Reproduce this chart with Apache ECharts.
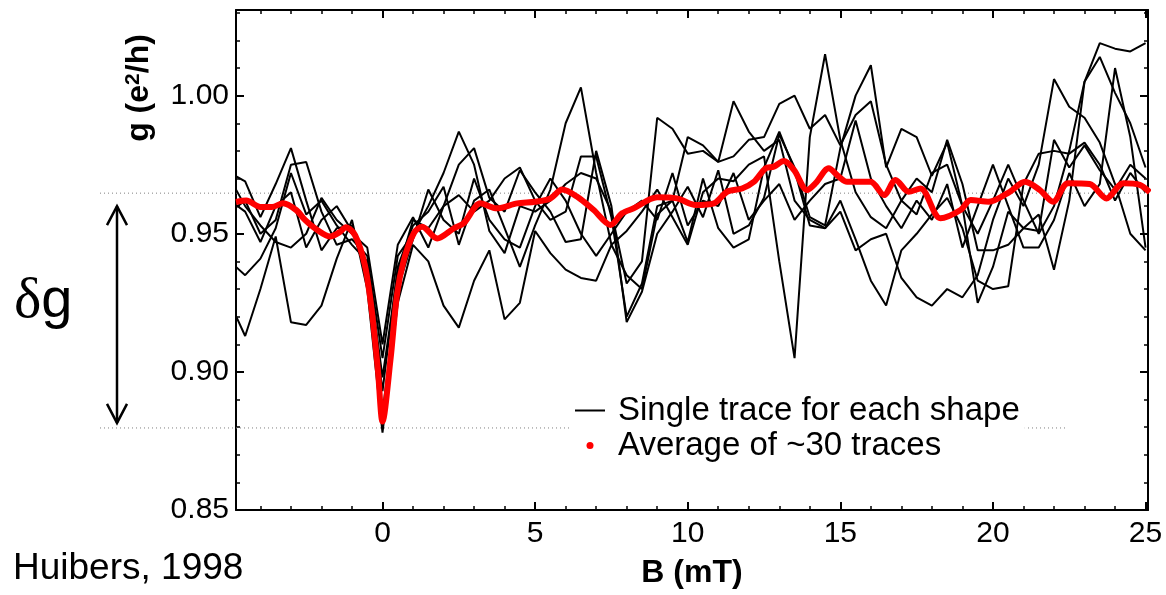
<!DOCTYPE html>
<html>
<head>
<meta charset="utf-8">
<title>g vs B</title>
<script src="https://cdn.jsdelivr.net/npm/echarts@6/dist/echarts.min.js"></script>
<style>
  html, body { margin: 0; padding: 0; background: #fff; }
  #chart { width: 1166px; height: 595px; }
</style>
</head>
<body>
<div id="chart"></div>
<script>
// magnetic field B (mT) shared by the single traces
const fieldB = [-5, -4.5, -4, -3.5, -3, -2.5, -2, -1.5, -1, -0.5, 0, 0.5, 1, 1.5, 2, 2.5, 3, 3.5, 4, 4.5,
  5, 5.5, 6, 6.5, 7, 7.5, 8, 8.5, 9, 9.5, 10, 10.5, 11, 11.5, 12, 12.5, 13, 13.5, 14, 14.5,
  15, 15.5, 16, 16.5, 17, 17.5, 18, 18.5, 19, 19.5, 20, 20.5, 21, 21.5, 22, 22.5, 23, 23.5, 24, 24.5, 25]

// single traces g (e^2/h), one per dot shape
const trace1 = [0.972, 0.969, 0.956, 0.968, 0.981, 0.962, 0.944, 0.952, 0.953, 0.938, 0.893, 0.938, 0.953, 0.958, 0.967, 0.946, 0.962, 0.966, 0.952, 0.938,
  0.953, 0.966, 0.990, 1.003, 0.972, 0.946, 0.951, 0.958, 0.966, 0.956, 0.946, 0.965, 0.970, 0.969, 0.975, 0.978, 0.940, 0.905, 0.985, 1.015,
  0.984, 0.965, 0.956, 0.952, 0.962, 0.957, 0.972, 0.975, 0.960, 0.950, 0.962, 0.975, 0.962, 0.950, 0.960, 0.980, 1.005, 1.014, 1.001, 0.990, 0.974]
const trace2 = [0.925, 0.913, 0.930, 0.949, 0.918, 0.917, 0.924, 0.941, 0.955, 0.930, 0.878, 0.925, 0.946, 0.940, 0.924, 0.916, 0.933, 0.944, 0.919, 0.925,
  0.951, 0.943, 0.937, 0.934, 0.933, 0.946, 0.935, 0.930, 0.957, 0.962, 0.947, 0.970, 0.952, 0.945, 0.948, 0.974, 0.987, 0.973, 0.953, 0.952,
  0.962, 0.948, 0.933, 0.924, 0.944, 0.950, 0.957, 0.963, 0.952, 0.933, 0.930, 0.931, 0.968, 0.979, 0.980, 0.979, 0.983, 0.975, 0.962, 0.972, 0.965]
const trace3 = [0.958, 0.962, 0.950, 0.955, 0.975, 0.976, 0.958, 0.946, 0.948, 0.942, 0.905, 0.942, 0.950, 0.960, 0.972, 0.987, 0.975, 0.951, 0.943, 0.960,
  0.958, 0.962, 0.968, 0.972, 0.970, 0.958, 0.932, 0.940, 0.992, 0.988, 0.979, 0.980, 0.976, 0.978, 0.984, 0.985, 0.997, 1.000, 0.988, 0.993,
  0.982, 0.993, 0.998, 0.975, 0.962, 0.970, 0.965, 0.984, 0.968, 0.944, 0.944, 0.946, 0.952, 0.951, 0.984, 0.974, 0.982, 0.973, 0.966, 0.975, 0.970]
const trace4 = [0.940, 0.935, 0.941, 0.952, 0.972, 0.957, 0.962, 0.953, 0.946, 0.940, 0.898, 0.936, 0.955, 0.952, 0.960, 0.975, 0.981, 0.963, 0.958, 0.973,
  0.965, 0.958, 0.947, 0.948, 0.980, 0.960, 0.918, 0.929, 0.950, 0.958, 0.967, 0.956, 0.973, 0.950, 0.953, 0.963, 0.986, 0.974, 0.956, 0.953,
  0.981, 1.000, 1.011, 0.974, 0.988, 0.985, 0.971, 0.983, 0.960, 0.925, 0.938, 0.958, 0.952, 0.957, 0.937, 0.962, 1.005, 1.019, 1.017, 1.016, 1.019]
const trace5 = [0.970, 0.960, 0.953, 0.947, 0.945, 0.950, 0.963, 0.955, 0.950, 0.945, 0.910, 0.946, 0.956, 0.945, 0.960, 0.964, 0.958, 0.962, 0.970, 0.974,
  0.962, 0.955, 0.958, 0.978, 0.978, 0.956, 0.920, 0.932, 0.960, 0.962, 0.985, 0.982, 0.976, 0.998, 0.987, 0.980, 0.984, 0.962, 0.955, 0.952,
  0.958, 0.944, 0.948, 0.950, 0.934, 0.927, 0.924, 0.930, 0.927, 0.935, 0.955, 0.970, 0.960, 0.975, 1.006, 0.996, 0.992, 0.983, 0.968, 0.950, 0.944]
const trace6 = [0.962, 0.958, 0.947, 0.960, 0.965, 0.945, 0.955, 0.960, 0.951, 0.935, 0.885, 0.930, 0.948, 0.966, 0.955, 0.950, 0.970, 0.955, 0.948, 0.945,
  0.960, 0.970, 0.962, 0.950, 0.942, 0.950, 0.958, 0.962, 0.955, 0.972, 0.953, 0.962, 0.960, 0.972, 0.955, 0.962, 0.968, 0.955, 0.962, 0.968,
  0.970, 0.991, 0.970, 0.960, 0.952, 0.962, 0.955, 0.968, 0.945, 0.960, 0.975, 0.960, 0.945, 0.945, 0.955, 0.972, 0.960, 0.968, 1.010, 0.985, 0.945]
const traces = [trace1, trace2, trace3, trace4, trace5, trace6]

// average of ~30 traces
const avgB = [-4.8, -4.46, -4.0, -3.62, -3.26, -2.83, -2.54, -2.18, -1.71, -1.4, -1.2, -0.9, -0.58, -0.35, -0.15, 0.0, 0.26, 0.48, 0.7, 1.03,
  1.3, 1.79, 2.34, 2.66, 3.21, 3.75, 4.41, 5.0, 5.5, 5.89, 6.38, 6.92, 7.47, 7.85, 8.23, 9.0, 9.65, 10.26, 10.86, 11.29,
  11.78, 12.17, 12.55, 12.82, 13.15, 13.48, 13.91, 14.19, 14.62, 14.95, 15.22, 15.99, 16.43, 16.81, 17.24, 17.63, 18.28, 18.94, 19.27, 19.87,
  20.55, 21.05, 21.54, 21.97, 22.46, 23.17, 23.72, 24.27, 24.81, 25.14]
const avgG = [0.9615, 0.962, 0.9597, 0.9597, 0.961, 0.9586, 0.955, 0.9517, 0.949, 0.9506, 0.9524, 0.9495, 0.9387, 0.922, 0.9006, 0.882, 0.9043, 0.9284, 0.9405, 0.9503,
  0.9525, 0.9483, 0.952, 0.9538, 0.961, 0.9592, 0.961, 0.9616, 0.9628, 0.966, 0.9634, 0.9586, 0.9532, 0.9574, 0.9592, 0.9632, 0.9628, 0.9604, 0.961, 0.9652,
  0.9664, 0.9688, 0.9737, 0.9743, 0.9763, 0.9731, 0.9658, 0.9683, 0.9737, 0.9707, 0.9688, 0.9688, 0.964, 0.9695, 0.9652, 0.9664, 0.9556, 0.9586, 0.9622, 0.9616,
  0.9652, 0.9688, 0.9658, 0.9616, 0.9683, 0.968, 0.9628, 0.9683, 0.9677, 0.965]

// dotted levels that bound delta g
const refLevels = [0.9647, 0.8797]

const FONT = 'Liberation Sans'
const xRange = [-4.8, 25.08]
const yRange = [0.85, 1.031]

const isMultiple = (v, step) => Math.abs(v / step - Math.round(v / step)) < 1e-6

// one frame side: major ticks (with or without labels) or minor ticks only
function frameAxis (kind, position, step, count, major, labels) {
  const range = kind === 'x' ? xRange : yRange
  return {
    type: 'value',
    position: position,
    min: range[0],
    max: range[1],
    splitNumber: count,
    minInterval: step,
    maxInterval: step,
    axisLine: { show: major, onZero: false, lineStyle: { color: '#000', width: 2 } },
    axisTick: { show: true, inside: true, length: major ? 8 : 4, lineStyle: { color: '#000', width: major ? 2 : 1.5 } },
    axisLabel: {
      show: labels,
      inside: false,
      interval: 0,
      margin: kind === 'x' ? 9 : 7,
      fontFamily: FONT,
      fontSize: 30,
      color: '#000',
      formatter: v => isMultiple(v, step) ? (kind === 'x' ? String(Math.round(v)) : v.toFixed(2)) : ''
    },
    splitLine: { show: false }
  }
}

const xBottom = frameAxis('x', 'bottom', 5, 6, true, true)
xBottom.name = 'B (mT)'
xBottom.nameLocation = 'middle'
xBottom.nameGap = 47
xBottom.nameTextStyle = { fontFamily: FONT, fontSize: 32, fontWeight: 'bold', color: '#000' }

const blackSeries = traces.map(t => ({
  name: 'Single trace for each shape',
  type: 'line',
  data: fieldB.map((b, i) => [b, t[i]]),
  showSymbol: false,
  symbol: 'none',
  itemStyle: { color: '#000' },
  lineStyle: { color: '#000', width: 2 },
  z: 2
}))

const option = {
  animation: false,
  backgroundColor: '#fff',
  grid: { left: 236, right: 18, top: 10, bottom: 85, containLabel: false, outerBoundsMode: 'none' },
  xAxis: [
    xBottom,
    frameAxis('x', 'bottom', 1, 30, false, false),
    frameAxis('x', 'top', 5, 6, true, false),
    frameAxis('x', 'top', 1, 30, false, false)
  ],
  yAxis: [
    frameAxis('y', 'left', 0.05, 4, true, true),
    frameAxis('y', 'left', 0.01, 18, false, false),
    frameAxis('y', 'right', 0.05, 4, true, false),
    frameAxis('y', 'right', 0.01, 18, false, false)
  ],
  legend: {
    orient: 'vertical',
    left: 570,
    top: 391,
    padding: [3, 5, 3, 5],
    itemWidth: 30,
    itemHeight: 7,
    itemGap: 2,
    backgroundColor: '#fff',
    selectedMode: false,
    textStyle: { fontFamily: FONT, fontSize: 33, lineHeight: 33, color: '#000', padding: [0, 0, 0, 8] },
    data: [
      { name: 'Single trace for each shape', icon: 'path://M0,0H30V2H0Z' },
      { name: 'Average of ~30 traces', icon: 'circle' }
    ]
  },
  series: blackSeries.concat([{
    name: 'Average of ~30 traces',
    type: 'line',
    data: avgB.map((b, i) => [b, avgG[i]]),
    showSymbol: false,
    symbol: 'none',
    smooth: 0.3,
    itemStyle: { color: '#ff0000' },
    lineStyle: { color: '#ff0000', width: 6 },
    z: 3
  }])
}

const chart = echarts.init(document.getElementById('chart'))
chart.setOption(option)

// annotations outside the plot, placed with the y axis scale
const yHigh = chart.convertToPixel({ yAxisIndex: 0 }, refLevels[0])
const yLow = chart.convertToPixel({ yAxisIndex: 0 }, refLevels[1])
const dotted = { stroke: '#808080', lineWidth: 1, lineDash: [1, 3] }
const arrowStyle = { stroke: '#000', lineWidth: 2.5, fill: null }

chart.setOption({
  graphic: [
    { type: 'line', z: 1, shape: { x1: 100, y1: yHigh, x2: 1148, y2: yHigh }, style: dotted },
    { type: 'line', z: 1, shape: { x1: 100, y1: yLow, x2: 1066, y2: yLow }, style: dotted },
    { type: 'line', shape: { x1: 117, y1: yHigh + 13, x2: 117, y2: yLow - 5 }, style: arrowStyle },
    { type: 'polyline', shape: { points: [[107, yHigh + 32], [117, yHigh + 13], [127, yHigh + 32]] }, style: arrowStyle },
    { type: 'polyline', shape: { points: [[107, yLow - 24], [117, yLow - 5], [127, yLow - 24]] }, style: arrowStyle },
    {
      type: 'text',
      x: 14,
      y: 302,
      style: {
        text: '{d|δ}{g|g}',
        rich: {
          d: { fontFamily: 'Liberation Serif', fontSize: 58, fill: '#000', color: '#000' },
          g: { fontFamily: FONT, fontSize: 56, fill: '#000', color: '#000' }
        },
        align: 'left',
        verticalAlign: 'middle',
        textAlign: 'left',
        textVerticalAlign: 'middle'
      }
    },
    {
      type: 'text',
      x: 13,
      y: 569,
      style: {
        text: 'Huibers, 1998',
        fontFamily: FONT,
        fontSize: 37,
        fill: '#000',
        align: 'left',
        verticalAlign: 'middle',
        textAlign: 'left',
        textVerticalAlign: 'middle'
      }
    },
    {
      type: 'text',
      x: 139,
      y: 88,
      rotation: Math.PI / 2,
      style: {
        text: '{b|g (e}{s|2}{b|/h)}',
        rich: {
          b: { fontFamily: FONT, fontSize: 32, fontWeight: 'bold', fill: '#000', color: '#000' },
          s: { fontFamily: FONT, fontSize: 21, fontWeight: 'bold', fill: '#000', color: '#000', verticalAlign: 'top' }
        },
        align: 'center',
        verticalAlign: 'middle',
        textAlign: 'center',
        textVerticalAlign: 'middle'
      }
    }
  ]
})
</script>
</body>
</html>
